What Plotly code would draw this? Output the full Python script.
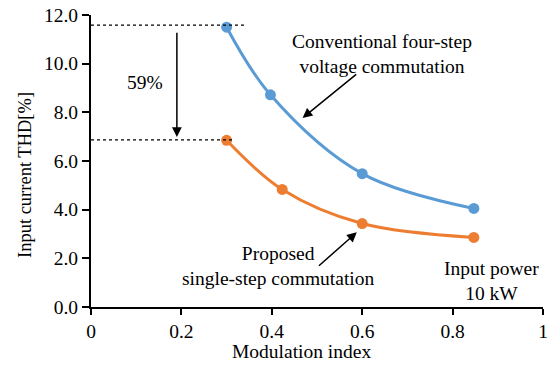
import plotly.graph_objects as go

# Data
conv_m = [0.30, 0.397, 0.60, 0.847]
conv_thd = [11.5, 8.72, 5.48, 4.05]
prop_m = [0.30, 0.423, 0.60, 0.847]
prop_thd = [6.85, 4.83, 3.43, 2.86]
x_ticks = [0, 0.2, 0.4, 0.6, 0.8, 1]
x_labels = ["0", "0.2", "0.4", "0.6", "0.8", "1"]
y_ticks = [0, 2, 4, 6, 8, 10, 12]
y_labels = ["0.0", "2.0", "4.0", "6.0", "8.0", "10.0", "12.0"]
ref_top = 11.58
ref_bottom = 6.87
reduction_label = "59%"

BLUE = "#5B9BD5"
ORANGE = "#ED7D31"
FONT = "Liberation Serif"
FS = 19.5

fig = go.Figure()
fig.add_trace(go.Scatter(x=conv_m, y=conv_thd, mode="lines+markers", line_shape="spline",
                         line=dict(color=BLUE, width=3), marker=dict(size=11, color=BLUE),
                         showlegend=False, cliponaxis=False))
fig.add_trace(go.Scatter(x=prop_m, y=prop_thd, mode="lines+markers", line_shape="spline",
                         line=dict(color=ORANGE, width=3), marker=dict(size=11, color=ORANGE),
                         showlegend=False, cliponaxis=False))

# dotted reference lines
fig.add_shape(type="line", x0=0, x1=0.341, y0=ref_top, y1=ref_top, xref="x", yref="y",
              line=dict(color="black", width=1.2, dash="dot"))
fig.add_shape(type="line", x0=0, x1=0.317, y0=ref_bottom, y1=ref_bottom, xref="x", yref="y",
              line=dict(color="black", width=1.2, dash="dot"))

anns = []
# 59% arrow
anns.append(dict(x=0.19, y=6.99, ax=0.19, ay=11.33, xref="x", yref="y", axref="x", ayref="y",
                 showarrow=True, arrowhead=2, arrowsize=1.3, arrowwidth=1.5, arrowcolor="black", text=""))
anns.append(dict(x=0.12, y=9.24, xref="x", yref="y", text=reduction_label, showarrow=False,
                 font=dict(family=FONT, size=FS, color="black")))
# Conventional
anns.append(dict(x=0.643, y=10.39, xref="x", yref="y", text="Conventional four-step<br>voltage commutation",
                 showarrow=False, align="center", font=dict(family=FONT, size=FS, color="black")))
anns.append(dict(x=0.468, y=7.77, ax=0.59, ay=9.61, xref="x", yref="y", axref="x", ayref="y",
                 showarrow=True, arrowhead=2, arrowsize=1.3, arrowwidth=1.5, arrowcolor="black", text=""))
# Proposed
anns.append(dict(x=0.415, y=1.70, xref="x", yref="y", text="Proposed<br>single-step commutation",
                 showarrow=False, align="center", font=dict(family=FONT, size=FS, color="black")))
anns.append(dict(x=0.588, y=3.07, ax=0.501, ay=1.64, xref="x", yref="y", axref="x", ayref="y",
                 showarrow=True, arrowhead=2, arrowsize=1.3, arrowwidth=1.5, arrowcolor="black", text=""))
# Input power
anns.append(dict(x=0.887, y=1.08, xref="x", yref="y", text="Input power<br>10 kW",
                 showarrow=False, align="center", font=dict(family=FONT, size=FS, color="black")))
# Axis titles
anns.append(dict(x=0.466, y=-0.151, xref="paper", yref="paper", xanchor="center", yanchor="middle",
                 text="Modulation index", showarrow=False,
                 font=dict(family=FONT, size=FS, color="black")))
anns.append(dict(x=-0.146, y=0.452, xref="paper", yref="paper", xanchor="center", yanchor="middle",
                 text="Input current THD[%]", textangle=-90, showarrow=False,
                 font=dict(family=FONT, size=18.5, color="black")))

fig.update_layout(
    width=555, height=365,
    margin=dict(l=91, r=11.5, t=15, b=58),
    paper_bgcolor="white", plot_bgcolor="white",
    font=dict(family=FONT, size=FS, color="black"),
    annotations=anns,
    xaxis=dict(range=[0, 1], tickvals=x_ticks, ticktext=x_labels, showgrid=False, zeroline=False,
               showline=True, linecolor="black", linewidth=2, ticks="outside", ticklen=6,
               tickwidth=2, tickcolor="black", automargin=False),
    yaxis=dict(range=[0, 12], tickvals=y_ticks, ticktext=y_labels, showgrid=False, zeroline=False,
               showline=True, linecolor="black", linewidth=2, ticks="outside", ticklen=7,
               tickwidth=2, tickcolor="black", automargin=False),
)

fig.write_html("out.html")
